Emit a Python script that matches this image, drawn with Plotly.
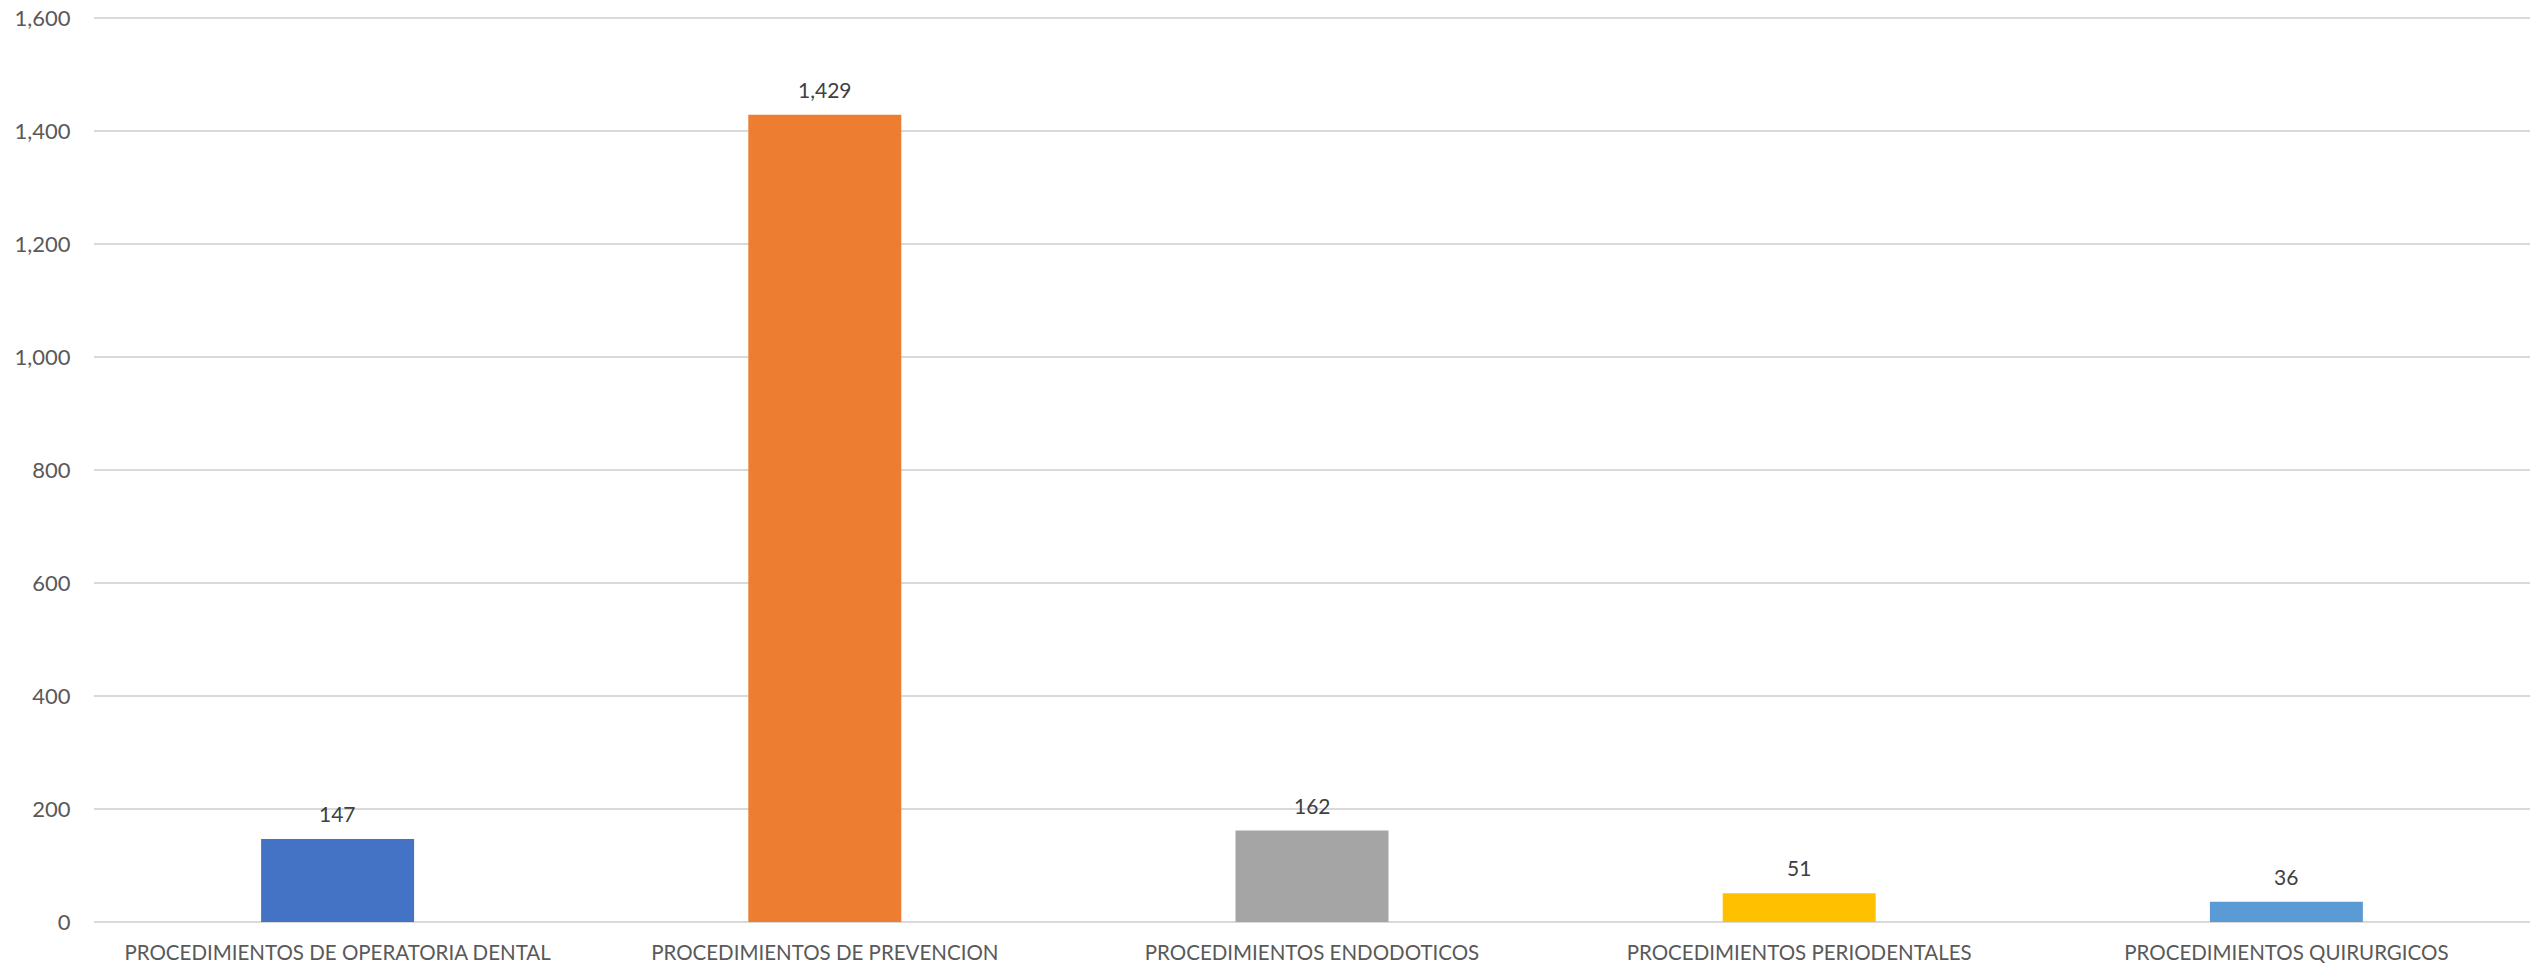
import plotly.graph_objects as go

categories = ["PROCEDIMIENTOS DE OPERATORIA DENTAL", "PROCEDIMIENTOS DE PREVENCION",
              "PROCEDIMIENTOS ENDODOTICOS", "PROCEDIMIENTOS PERIODENTALES",
              "PROCEDIMIENTOS QUIRURGICOS"]
values = [147, 1429, 162, 51, 36]
colors = ["#4472C4", "#ED7D31", "#A5A5A5", "#FFC000", "#5B9BD5"]
tick_vals = [0, 200, 400, 600, 800, 1000, 1200, 1400, 1600]

FONT = "Lato, Open Sans, sans-serif"

fig = go.Figure()
fig.add_trace(go.Bar(x=categories, y=values, marker=dict(color=colors, line=dict(width=0)),
                     hoverinfo="x+y"))

for c, v in zip(categories, values):
    fig.add_annotation(x=c, y=v, text=f"{v:,}", showarrow=False, yanchor="bottom",
                       yshift=11, font=dict(family=FONT, size=21, color="#404040"))

fig.update_layout(
    width=2539, height=968,
    margin=dict(l=94, r=9, t=16, b=46, pad=0),
    paper_bgcolor="white", plot_bgcolor="white",
    bargap=0.686, showlegend=False,
    font=dict(family=FONT, size=22, color="#595959"),
)
fig.update_xaxes(showgrid=False, showline=False, ticks="outside", ticklen=12, automargin=False,
                 tickcolor="rgba(0,0,0,0)", tickfont=dict(family=FONT, size=20.5, color="#595959"))
fig.update_yaxes(range=[0, 1604], tickvals=tick_vals, tickformat=",d", automargin=False,
                 ticklabeloverflow="allow",
                 showgrid=True, gridcolor="#D9D9D9", gridwidth=1.5,
                 zeroline=True, zerolinecolor="#D9D9D9", zerolinewidth=1.5,
                 showline=False, ticks="outside", ticklen=18, tickcolor="rgba(0,0,0,0)",
                 tickfont=dict(family=FONT, size=22, color="#595959"))

fig.write_html("out.html", config={"displayModeBar": False},
               post_script="document.body.style.margin='0';document.body.style.overflow='hidden';")
